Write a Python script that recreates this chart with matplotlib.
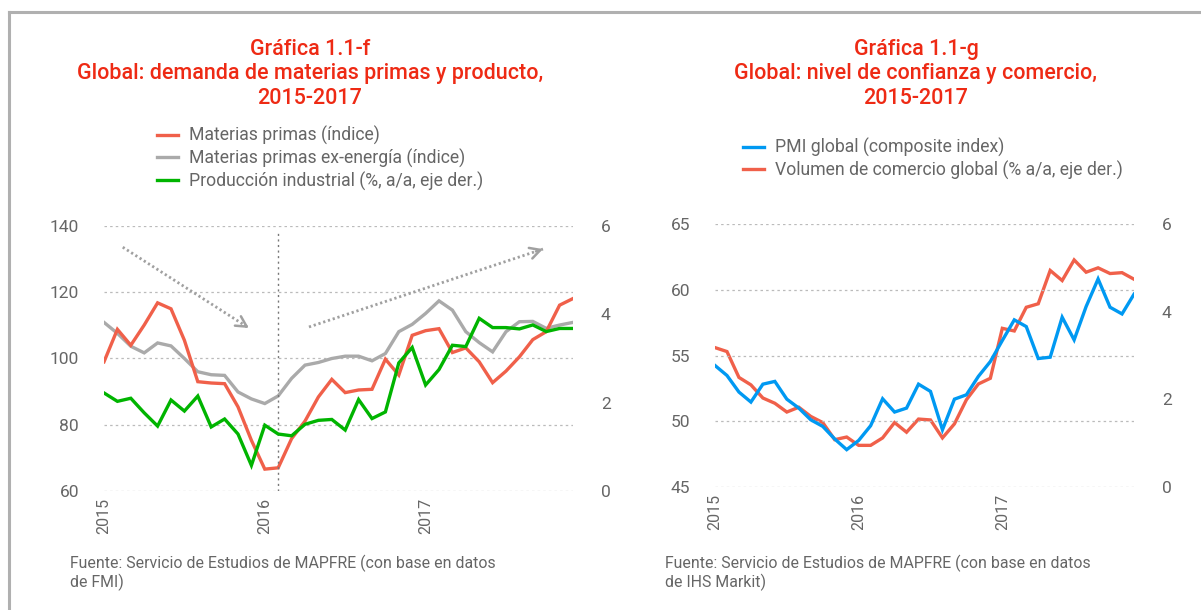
import numpy as np
import matplotlib
matplotlib.use("Agg")
import matplotlib.pyplot as plt
from matplotlib.lines import Line2D

plt.rcParams['font.family'] = ['Roboto', 'DejaVu Sans']

# --- data: monthly, Jan 2015 - Dec 2017 ---
months = np.arange(36)
year_ticks = [0, 12, 24]
year_labels = ['2015', '2016', '2017']

materias_primas = [99.0, 108.8, 104.0, 110.1, 116.8, 115.0, 105.5, 93.0, 92.6, 92.4, 85.4, 75.3,
                   66.6, 67.0, 75.8, 81.1, 88.4, 93.7, 89.7, 90.5, 90.7, 99.8, 95.0, 107.0,
                   108.4, 109.0, 101.8, 103.2, 99.0, 92.7, 96.2, 100.5, 105.7, 108.1, 116.1, 118.1]
materias_ex_energia = [110.9, 107.6, 103.7, 101.7, 104.7, 103.8, 100.0, 96.0, 95.1, 94.9, 89.9, 87.8,
                       86.4, 88.7, 94.0, 98.0, 98.8, 100.0, 100.7, 100.7, 99.3, 101.5, 108.1, 110.3,
                       113.6, 117.4, 114.6, 108.1, 104.8, 102.0, 108.1, 111.1, 111.2, 109.1, 110.1, 110.9]
produccion_ind = [2.22, 2.03, 2.10, 1.77, 1.47, 2.06, 1.81, 2.15, 1.45, 1.63, 1.29, 0.58,
                  1.49, 1.29, 1.25, 1.51, 1.60, 1.62, 1.38, 2.07, 1.64, 1.79, 2.90, 3.25,
                  2.40, 2.75, 3.30, 3.27, 3.91, 3.70, 3.70, 3.67, 3.76, 3.61, 3.68, 3.68]

pmi_global = [54.24, 53.48, 52.22, 51.46, 52.82, 53.03, 51.68, 51.00, 50.11, 49.61, 48.65, 47.84,
              48.54, 49.66, 51.71, 50.70, 51.00, 52.82, 52.27, 49.35, 51.68, 52.01, 53.41, 54.54,
              56.14, 57.71, 57.20, 54.77, 54.87, 57.91, 56.19, 58.72, 60.82, 58.67, 58.16, 59.66]
comercio_global = [3.18, 3.09, 2.50, 2.33, 2.03, 1.91, 1.71, 1.82, 1.61, 1.47, 1.08, 1.14,
                   0.95, 0.95, 1.12, 1.47, 1.25, 1.55, 1.53, 1.12, 1.44, 1.99, 2.35, 2.48,
                   3.62, 3.56, 4.10, 4.18, 4.94, 4.71, 5.18, 4.90, 5.00, 4.87, 4.89, 4.74]

RED = '#f0604a'
GRAY_L = '#aaaaaa'
GREEN = '#00b400'
BLUE = '#0099f2'
TITLE_C = '#ee2a14'
TXT = '#666666'

W, H = 1201, 610
fig = plt.figure(figsize=(W / 100, H / 100), dpi=100)

def box(l, r, t, b):
    return [l / W, 1 - b / H, (r - l) / W, (b - t) / H]

def style(ax, ax2, ylim, yticks, y2ticks):
    ax.set_xlim(0, 35)
    ax.set_ylim(*ylim)
    ax2.set_ylim(0, 6)
    ax.set_yticks(yticks)
    ax2.set_yticks(y2ticks)
    ax.set_xticks(year_ticks)
    ax.set_xticklabels(year_labels, rotation=90, fontsize=11.5, color=TXT)
    for a in (ax, ax2):
        for s in a.spines.values():
            s.set_visible(False)
        a.tick_params(length=0)
    ax.tick_params(axis='y', labelsize=12.5, labelcolor=TXT, pad=18)
    ax.tick_params(axis='x', pad=5)
    ax2.tick_params(axis='y', labelsize=12.5, labelcolor=TXT, pad=20)
    ax.grid(axis='y', color='#bbbbbb', linestyle=(0, (2, 2.5)), linewidth=0.9)
    ax.set_axisbelow(True)

def dotted_arrow(ax, start, end):
    # dotted shaft plus an open chevron head, in axes fraction
    ax.plot([start[0], end[0]], [start[1], end[1]], transform=ax.transAxes,
            color='#a0a0a0', lw=2.0, linestyle=(0, (0.8, 1.0)), solid_capstyle='butt')
    dx, dy = end[0] - start[0], end[1] - start[1]
    ax.annotate('', xy=end, xycoords='axes fraction',
                xytext=(end[0] - dx * 0.03, end[1] - dy * 0.03), textcoords='axes fraction',
                arrowprops=dict(arrowstyle='->,head_length=0.75,head_width=0.4',
                                color='#a0a0a0', lw=1.8, shrinkA=0, shrinkB=0))

# ---------------- left chart ----------------
ax = fig.add_axes(box(104, 573, 226, 491))
ax2 = ax.twinx()
ax.plot(months, materias_ex_energia, color=GRAY_L, lw=2.4, solid_joinstyle='miter')
ax.plot(months, materias_primas, color=RED, lw=2.4, solid_joinstyle='miter')
ax2.plot(months, produccion_ind, color=GREEN, lw=2.4, solid_joinstyle='miter')
style(ax, ax2, (60, 140), [60, 80, 100, 120, 140], [0, 2, 4, 6])
ax.axvline(13, color='#777777', lw=1.0, linestyle=(0, (1.5, 2.5)), ymin=-0.0, ymax=0.985)

dotted_arrow(ax, (0.04, 0.92), (0.309, 0.615))
dotted_arrow(ax, (0.437, 0.619), (0.936, 0.913))

fig.text(310 / W, 1 - 74 / H, 'Gráfica 1.1-f\nGlobal: demanda de materias primas y producto,\n2015-2017',
         ha='center', va='center', color=TITLE_C, fontsize=15.5, weight='medium',
         linespacing=1.2)

h1 = [Line2D([], [], color=RED, lw=2.4), Line2D([], [], color=GRAY_L, lw=2.4),
      Line2D([], [], color=GREEN, lw=2.4)]
fig.legend(h1, ['Materias primas (índice)', 'Materias primas ex-energía (índice)',
                'Producción industrial (%, a/a, eje der.)'],
           loc='upper left', bbox_to_anchor=(157 / W, 1 - 126 / H), frameon=False,
           fontsize=12.7, labelcolor=TXT, handlelength=1.2, handletextpad=0.62,
           labelspacing=0.2, borderpad=0, borderaxespad=0)

fig.text(70 / W, 1 - 573 / H, 'Fuente: Servicio de Estudios de MAPFRE (con base en datos\nde FMI)',
         ha='left', va='center', color=TXT, fontsize=11.4, linespacing=1.1)

# ---------------- right chart ----------------
bx = fig.add_axes(box(715, 1134, 224, 487))
bx2 = bx.twinx()
bx2.plot(months, comercio_global, color=RED, lw=2.4, solid_joinstyle='miter')
bx.plot(months, pmi_global, color=BLUE, lw=2.4, solid_joinstyle='miter')
bx.set_zorder(bx2.get_zorder() + 1)
bx.patch.set_visible(False)
style(bx, bx2, (45, 65), [45, 50, 55, 60, 65], [0, 2, 4, 6])

fig.text(916 / W, 1 - 74 / H, 'Gráfica 1.1-g\nGlobal: nivel de confianza y comercio,\n2015-2017',
         ha='center', va='center', color=TITLE_C, fontsize=15.5, weight='medium',
         linespacing=1.2)

h2 = [Line2D([], [], color=BLUE, lw=2.4), Line2D([], [], color=RED, lw=2.4)]
fig.legend(h2, ['PMI global (composite index)', 'Volumen de comercio global (% a/a, eje der.)'],
           loc='upper left', bbox_to_anchor=(743 / W, 1 - 138 / H), frameon=False,
           fontsize=12.7, labelcolor=TXT, handlelength=1.2, handletextpad=0.62,
           labelspacing=0.2, borderpad=0, borderaxespad=0)

fig.text(665 / W, 1 - 573 / H, 'Fuente: Servicio de Estudios de MAPFRE (con base en datos\nde IHS Markit)',
         ha='left', va='center', color=TXT, fontsize=11.4, linespacing=1.1)

# outer frame (top and left edges)
fig.add_artist(Line2D([9 / W, 1], [1 - 12 / H, 1 - 12 / H], color='#b0b0b0', lw=2.2))
fig.add_artist(Line2D([9 / W, 9 / W], [0, 1 - 12 / H], color='#b0b0b0', lw=2.2))

fig.savefig('out.png', dpi=100)
